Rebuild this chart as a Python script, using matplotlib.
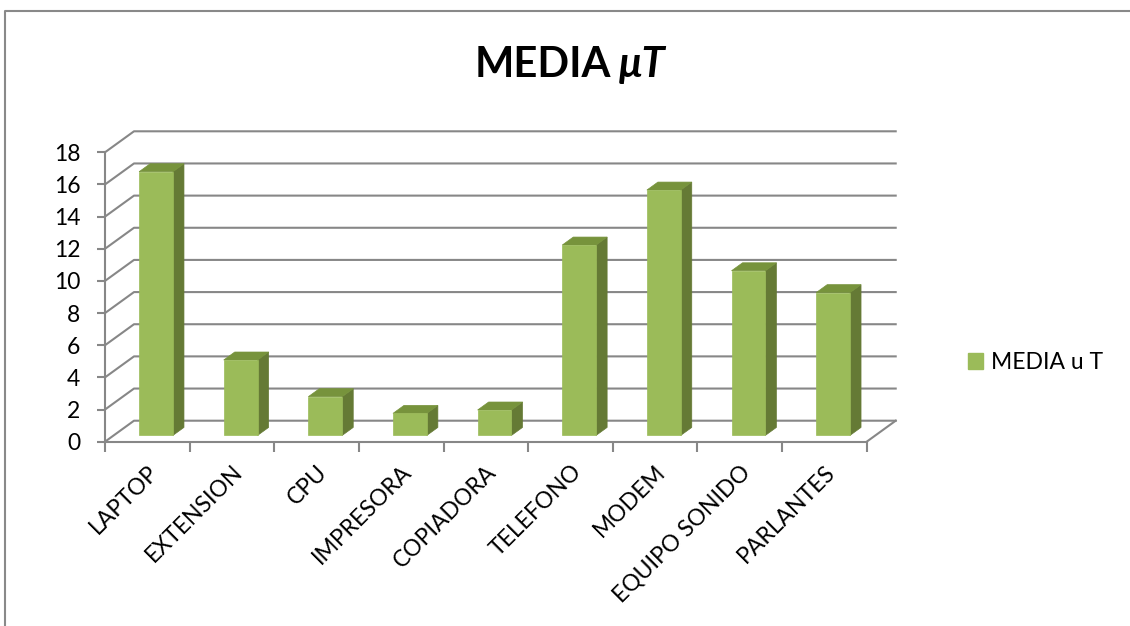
import numpy as np
import matplotlib
matplotlib.use("Agg")
import matplotlib.pyplot as plt
from matplotlib.patches import Polygon, Patch
from matplotlib.lines import Line2D

# ---- data -------------------------------------------------------------
categories = ["LAPTOP", "EXTENSION", "CPU", "IMPRESORA", "COPIADORA",
              "TELEFONO", "MODEM", "EQUIPO SONIDO", "PARLANTES"]
media_ut = [16.40, 4.69, 2.41, 1.37, 1.58, 11.84, 15.26, 10.24, 8.88]
y_ticks = list(range(0, 19, 2))
series_name = "MEDIA u T"

# ---- style ------------------------------------------------------------
W, H, DPI = 1130, 626, 100
plt.rcParams['font.family'] = ['Lato', 'DejaVu Sans']
grid_c = '#878787'
front_c = '#9BBB59'
side_c = '#657A35'
top_c = '#77933C'
label_fs = 16.5

fig = plt.figure(figsize=(W / DPI, H / DPI), dpi=DPI)

# front plane of the plot box, in pixels
x_left, x_right = 105, 866.7
y_zero, y_top = 441.7, 152.3
ax = fig.add_axes([x_left / W, 1 - y_zero / H,
                   (x_right - x_left) / W, (y_zero - y_top) / H])
n = len(categories)
ymax = y_ticks[-1]
ax.set_xlim(0, n)
ax.set_ylim(0, ymax)
ax.patch.set_visible(False)

# oblique depth vector (full depth) expressed in data units
px_x = (x_right - x_left) / n
px_y = (y_zero - y_top) / ymax
DX = 29 / px_x
DY = 21 / px_y


def proj(x, y, z):
    return (x + z * DX, y + z * DY)


# side wall + back wall gridlines
for v in y_ticks:
    pts = [proj(0, v, 0), proj(0, v, 1), proj(n, v, 1)]
    ax.add_line(Line2D(*zip(*pts), color=grid_c, lw=1.5,
                       clip_on=False, zorder=1))
# right edge of the floor
pts = [proj(n, 0, 0), proj(n, 0, 1)]
ax.add_line(Line2D(*zip(*pts), color=grid_c, lw=1.5, clip_on=False, zorder=1))

# 3-D columns
zf, zb = 0.3, 0.68
bw = 0.4
for i, v in enumerate(media_ut):
    x0 = i + 0.5 - bw / 2
    x1 = x0 + bw
    front = [proj(x0, 0, zf), proj(x1, 0, zf), proj(x1, v, zf), proj(x0, v, zf)]
    side = [proj(x1, 0, zf), proj(x1, 0, zb), proj(x1, v, zb), proj(x1, v, zf)]
    top = [proj(x0, v, zf), proj(x1, v, zf), proj(x1, v, zb), proj(x0, v, zb)]
    for poly, c in ((side, side_c), (top, top_c), (front, front_c)):
        ax.add_patch(Polygon(poly, closed=True, facecolor=c, edgecolor=c,
                             lw=0.5, clip_on=False, zorder=3))

# axes lines and ticks
for s in ('top', 'right'):
    ax.spines[s].set_visible(False)
for s in ('left', 'bottom'):
    ax.spines[s].set_color(grid_c)
    ax.spines[s].set_linewidth(1.5)

ax.set_yticks(y_ticks)
ax.tick_params(axis='y', length=5.8, width=1.5, color=grid_c, pad=12,
               labelsize=label_fs, labelcolor='black')

ax.set_xticks(np.arange(n + 1))
ax.set_xticklabels([])
ax.set_xticks(np.arange(n) + 0.5, minor=True)
ax.set_xticklabels(categories, minor=True, rotation=45, ha='right',
                   rotation_mode='anchor')
ax.tick_params(axis='x', which='major', length=7.2, width=1.5, color=grid_c)
ax.tick_params(axis='x', which='minor', length=0, pad=14,
               labelsize=label_fs, labelcolor='black')

# legend
fig.legend(handles=[Patch(facecolor=front_c, edgecolor=front_c, label=series_name)],
           loc='center left', bbox_to_anchor=(968 / W, 1 - 362.5 / H),
           frameon=False, fontsize=label_fs, handlelength=0.65,
           handleheight=0.65, handletextpad=0.35, borderpad=0,
           borderaxespad=0)

# title
t1 = fig.text(475 / W, 1 - 76.7 / H, "MEDIA", fontsize=30, weight='bold',
              ha='left', va='baseline')
ax.annotate("\u03bcT", xy=(1, 0), xycoords=t1, xytext=(8, 0),
            textcoords='offset pixels', fontsize=30, weight='bold',
            style='italic', ha='left', va='bottom',
            annotation_clip=False)

# chart frame
fig.add_artist(Line2D([4.5 / W, 4.5 / W, 1.01],
                      [-0.01, 1 - 10.5 / H, 1 - 10.5 / H],
                      transform=fig.transFigure, color='#898989', lw=1.5))

fig.savefig('out.png', dpi=DPI)
